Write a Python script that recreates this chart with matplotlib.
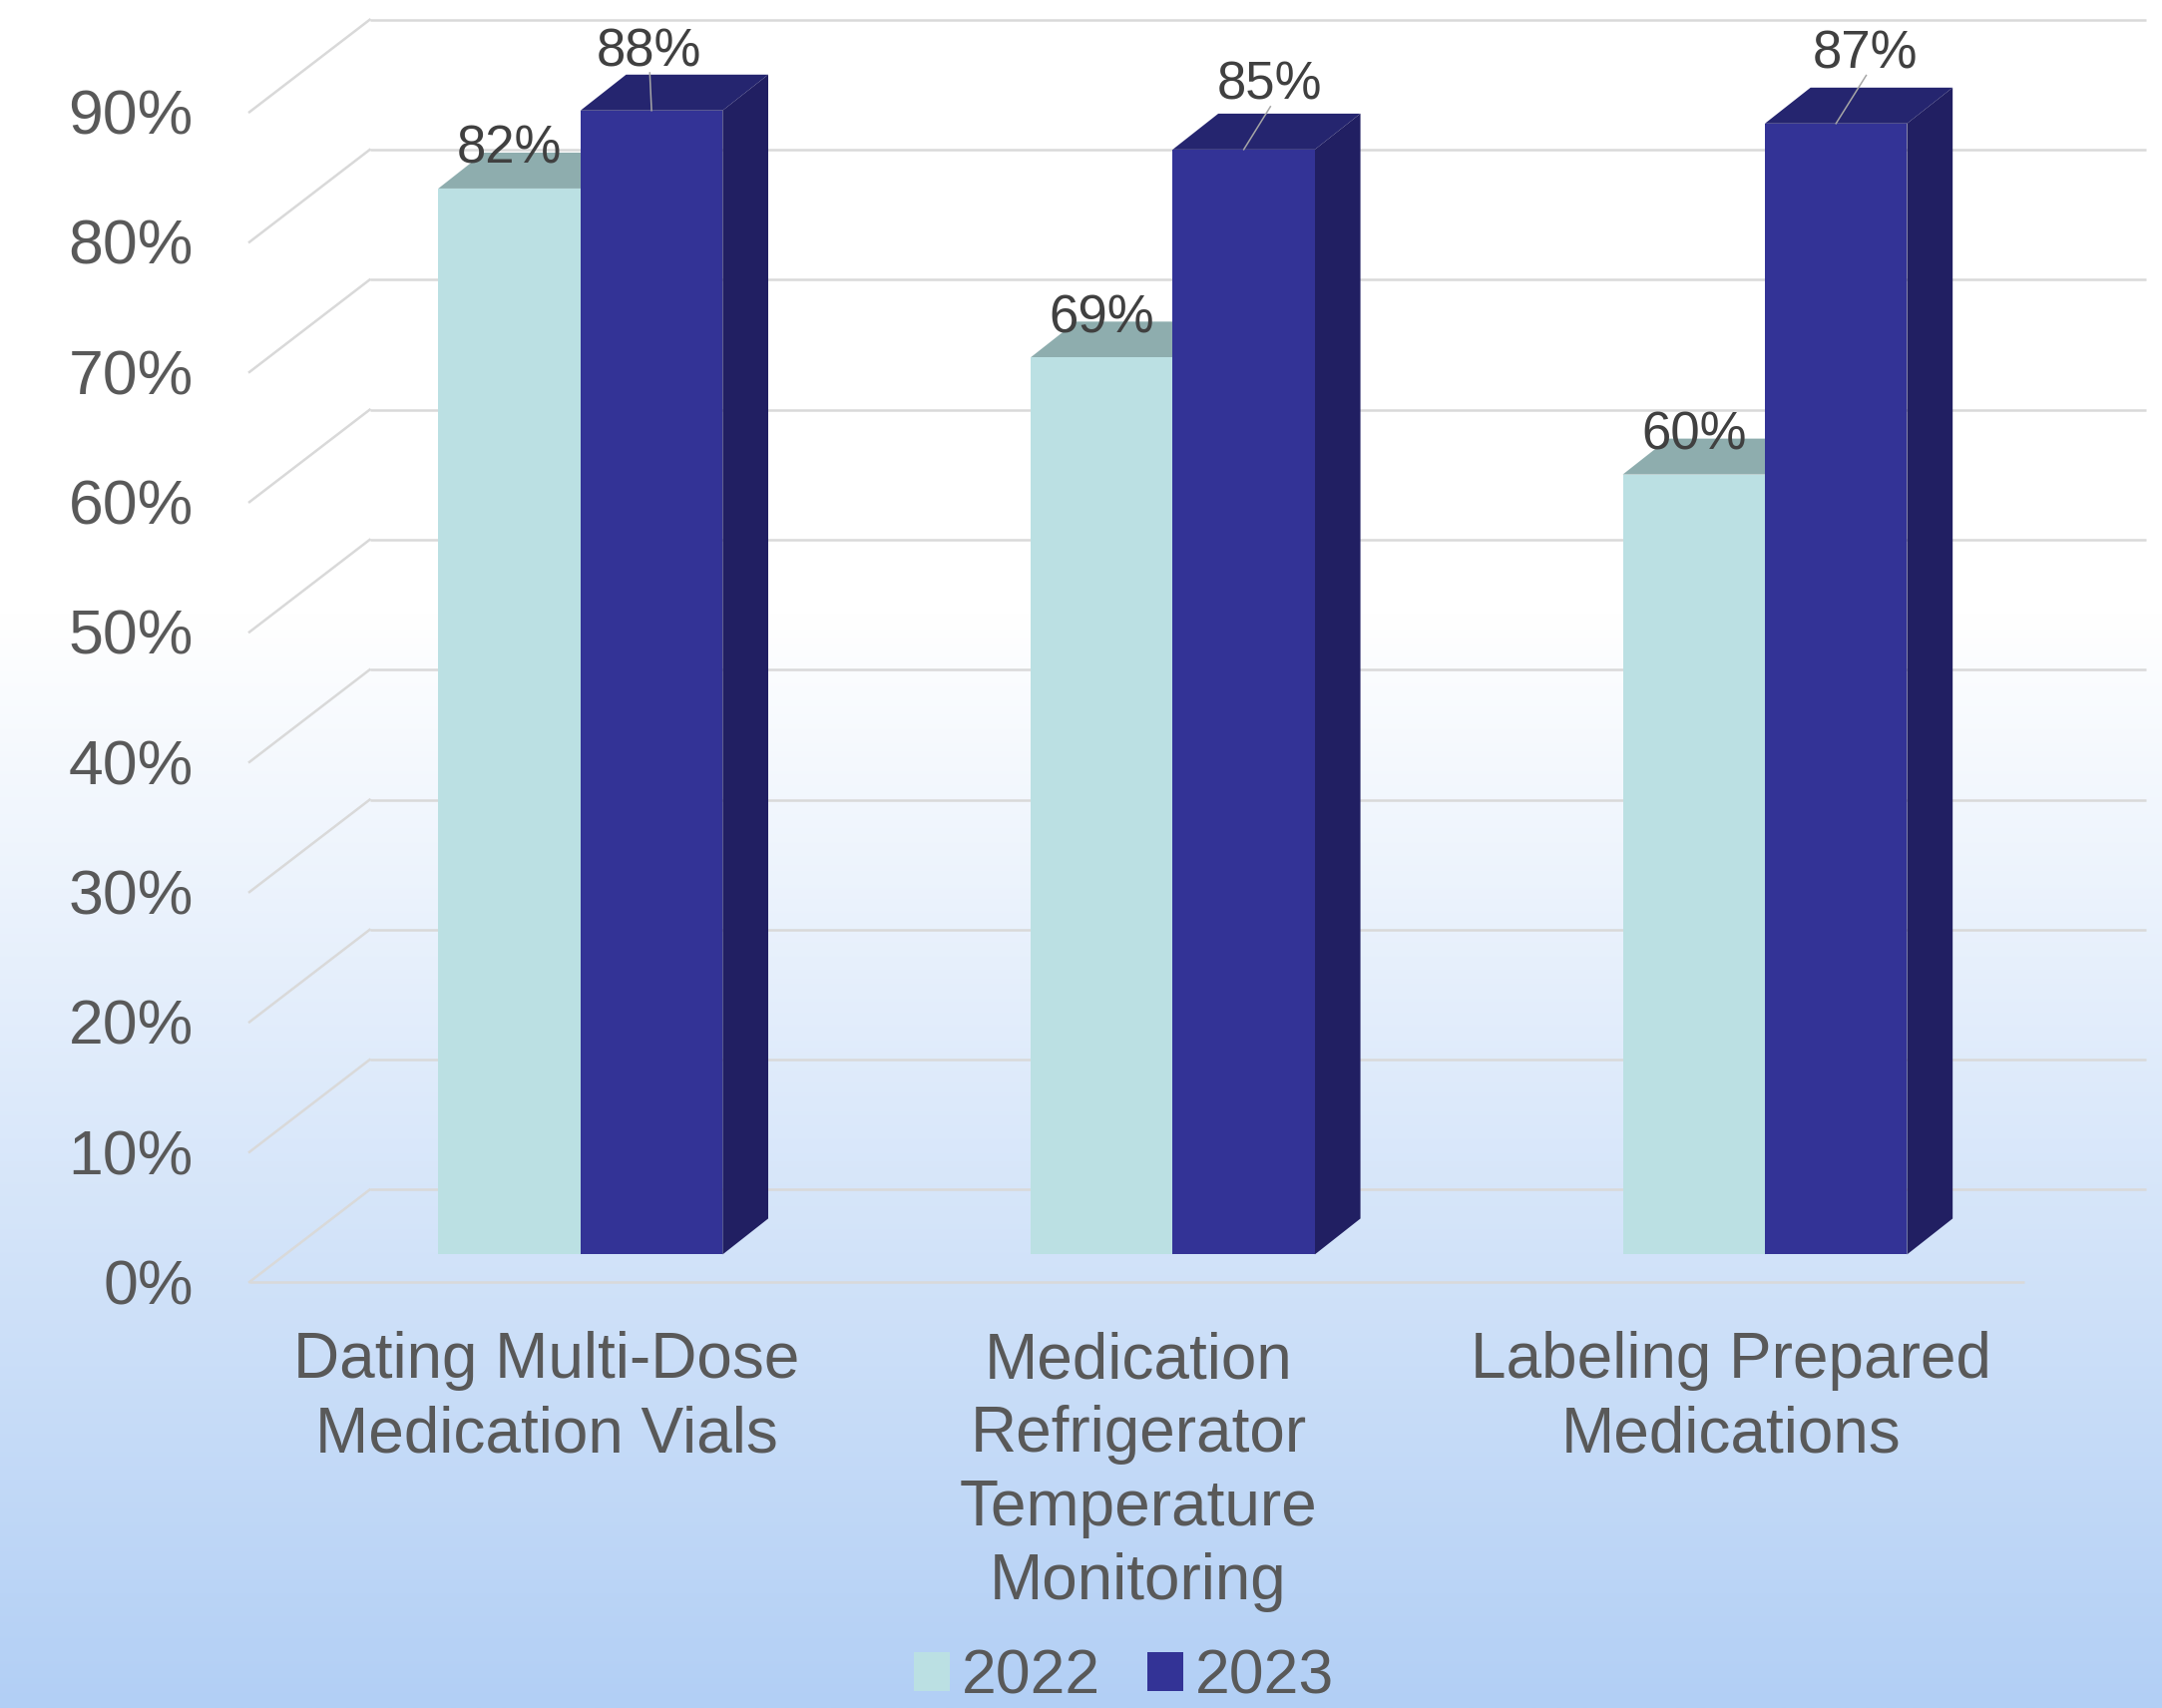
import numpy as np
import matplotlib.pyplot as plt
from matplotlib.patches import Polygon, Patch

plt.rcParams['font.family'] = ['Liberation Sans', 'DejaVu Sans']

# data
categories = ['Dating Multi-Dose\nMedication Vials',
              'Medication\nRefrigerator\nTemperature\nMonitoring',
              'Labeling Prepared\nMedications']
years = ['2022', '2023']
vals_2022 = [82, 69, 60]
vals_2023 = [88, 85, 87]
yticks = list(range(0, 100, 10))

# colours
front_cols = ['#bbe0e3', '#333396']
top_cols = ['#8eadae', '#25256f']
side_cols = ['#9fc2c5', '#211f62']
grid_col = '#d9d9d9'
text_col = '#595959'
label_col = '#404040'

# pseudo-3d geometry (x in category units, y in percent)
bw = 0.24            # bar width
bdx, bdy = 0.077, 2.76   # bar depth offset
floor_front = -2.12   # y offset of front floor edge
floor_back = 4.98     # y offset of back wall base
wall_x0, wall_x1 = -0.356, 2.643
front_x0, front_x1 = -0.559, 2.438

fig = plt.figure(figsize=(21.67, 17.12), dpi=100)
ax = fig.add_axes([0, 0, 1, 1])
xlim = (-0.9802, 2.6705)
ylim = (-34.89, 96.50)
ax.set_xlim(*xlim)
ax.set_ylim(*ylim)
ax.axis('off')

# background gradient: white at top, light blue at bottom
rows = np.linspace(0, 1, 600)
t = np.clip((rows - 0.36) / 0.64, 0, 1)
top_rgb = np.array([255, 255, 255]) / 255
bot_rgb = np.array([178, 207, 245]) / 255
grad = top_rgb[None, :] * (1 - t[:, None]) + bot_rgb[None, :] * t[:, None]
grad = np.repeat(grad[:, None, :], 2, axis=1)
ax.imshow(grad, extent=[xlim[0], xlim[1], ylim[0], ylim[1]], aspect='auto',
          origin='upper', zorder=0)

# walls and floor
for v in yticks:
    ax.plot([wall_x0, wall_x1], [v + floor_back, v + floor_back],
            color=grid_col, lw=1.8, zorder=1, solid_capstyle='butt')
    ax.plot([front_x0, wall_x0], [v + floor_front, v + floor_front + (floor_back - floor_front)],
            color=grid_col, lw=1.8, zorder=1)
    ax.text(front_x0 - 0.095, v + floor_front - 0.45, f'{v}%', ha='right',
            va='center', fontsize=45, color=text_col)
ax.plot([front_x0, front_x1], [floor_front, floor_front], color=grid_col,
        lw=1.8, zorder=1, solid_capstyle='butt')

x = np.arange(len(categories))
series = [vals_2022, vals_2023]
offsets = [-bw, 0.0]
for s, vals in enumerate(series):
    ax.bar(x + offsets[s], vals, width=bw, align='edge', color=front_cols[s],
           zorder=3 + 2 * s)
    for i, v in enumerate(vals):
        x0 = x[i] + offsets[s]
        x1 = x0 + bw
        top = Polygon([(x0, v), (x1, v), (x1 + bdx, v + bdy), (x0 + bdx, v + bdy)],
                      closed=True, facecolor=top_cols[s], edgecolor='none',
                      zorder=2 + 2 * s)
        side = Polygon([(x1, 0), (x1 + bdx, bdy), (x1 + bdx, v + bdy), (x1, v)],
                       closed=True, facecolor=side_cols[s], edgecolor='none',
                       zorder=2 + 2 * s)
        ax.add_patch(top)
        ax.add_patch(side)

# data labels
for i, v in enumerate(vals_2022):
    ax.text(x[i] - bw / 2, v + 3.0, f'{v}%', ha='center', va='center',
            fontsize=38, color=label_col, zorder=10)

lab_dx = [-0.004, 0.044, 0.05]
lab_dy = [4.5, 4.9, 5.3]
for i, v in enumerate(vals_2023):
    cx = x[i] + bw / 2
    lx = cx + lab_dx[i]
    ax.plot([cx, lx + 0.001], [v, v + lab_dy[i] - 1.6], color='#a6a6a6',
            lw=1.1, zorder=9)
    ax.text(lx, v + lab_dy[i], f'{v}%', ha='center', va='center',
            fontsize=38, color=label_col, zorder=10)

# category labels, one line at a time
for i, cat in enumerate(categories):
    for j, line in enumerate(cat.split('\n')):
        ax.text(x[i] - 0.058, -9.5 - 5.67 * j, line, ha='center',
                va='baseline', fontsize=46, color=text_col)

handles = [Patch(facecolor=front_cols[0]), Patch(facecolor=front_cols[1])]
fig.legend(handles, years, loc='center', bbox_to_anchor=(0.52, 0.018),
           ncol=2, frameon=False, fontsize=45, labelcolor=text_col,
           handlelength=0.57, handleheight=0.6, handletextpad=0.2,
           columnspacing=0.75, borderpad=0, borderaxespad=0)

fig.savefig('out.png', dpi=100)
